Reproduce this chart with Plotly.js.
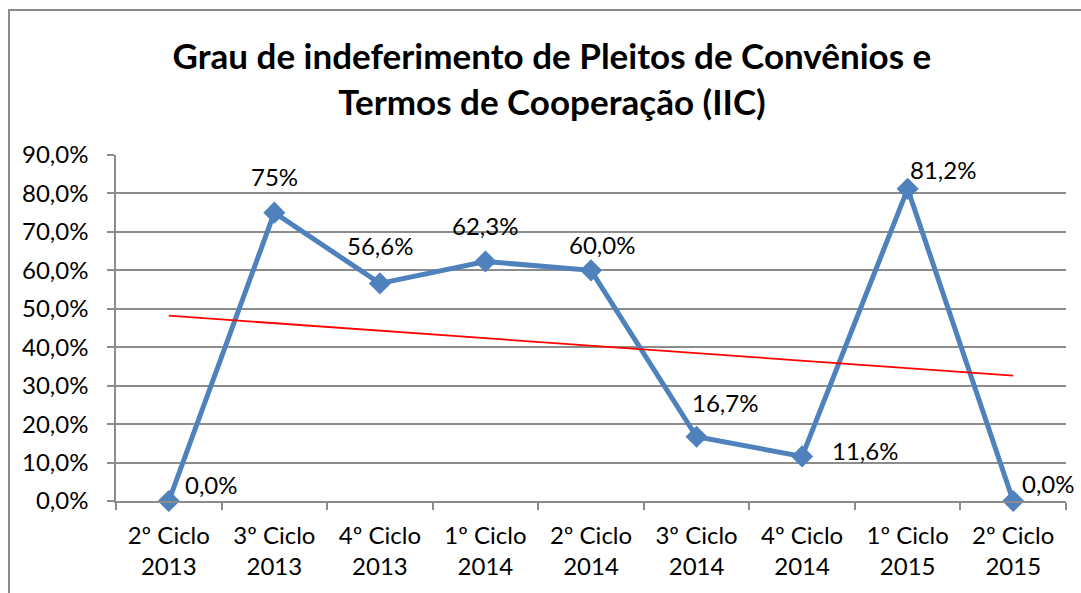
<!DOCTYPE html>
<html>
<head>
<meta charset="utf-8">
<script src="https://cdn.plot.ly/plotly-3.0.1.min.js"></script>
<style>
  body { margin: 0; background: white; }
  #frame { position: absolute; left: 8px; top: 9px; border-left: 2px solid #8c8c8c; border-top: 2px solid #8c8c8c; }
  #chart { width: 1071px; height: 582px; }
</style>
</head>
<body>
<div id="frame"><div id="chart"></div></div>
<script>
// categories (cycle / year)
var ciclos = ['2º Ciclo<br>2013', '3º Ciclo<br>2013', '4º Ciclo<br>2013', '1º Ciclo<br>2014',
              '2º Ciclo<br>2014', '3º Ciclo<br>2014', '4º Ciclo<br>2014', '1º Ciclo<br>2015', '2º Ciclo<br>2015'];
// indeferimento (%)
var grau = [0.0, 75, 56.6, 62.3, 60.0, 16.7, 11.6, 81.2, 0.0];
var rotulos = ['0,0%', '75%', '56,6%', '62,3%', '60,0%', '16,7%', '11,6%', '81,2%', '0,0%'];
// linear trendline, end values
var tendencia = [48.2, 32.6];

// label offsets in px
var dx = [43, 0, 0, 0, 11, 28, 63, 35, 35];
var dy = [17, 36, 38, 36, 26, 34, 6, 19, 18];

var fonte = 'Lato, "Open Sans", sans-serif';

var trace_grau = {
    x: ciclos,
    y: grau,
    mode: 'lines+markers',
    line: {color: '#4f81bd', width: 5},
    marker: {symbol: 'diamond', size: 17, color: '#4f81bd'},
    cliponaxis: false,
    hoverinfo: 'skip',
    showlegend: false
};
var trace_tend = {
    x: [ciclos[0], ciclos[ciclos.length - 1]],
    y: tendencia,
    mode: 'lines',
    line: {color: '#ff0000', width: 1.8},
    hoverinfo: 'skip',
    showlegend: false
};

var annots = [];
for (var i = 0; i < grau.length; i++) {
    annots.push({
        x: ciclos[i], y: grau[i], xref: 'x', yref: 'y',
        text: rotulos[i], showarrow: false,
        xshift: dx[i], yshift: dy[i],
        font: {family: fonte, size: 24, color: '#000'}
    });
}

var layout = {
    width: 1071, height: 582,
    margin: {l: 106, r: 15, t: 144, b: 92},
    paper_bgcolor: 'white',
    plot_bgcolor: 'white',
    separators: ',.',
    font: {family: fonte, size: 24, color: '#000'},
    title: {
        text: 'Grau de indeferimento de Pleitos de Convênios e<br>Termos de Cooperação (IIC)',
        font: {family: fonte, size: 35, color: '#000', weight: 'bold'},
        xref: 'container', x: 0.506, xanchor: 'center',
        yref: 'container', y: 0.9, yanchor: 'middle'
    },
    xaxis: {
        type: 'category',
        categoryorder: 'array', categoryarray: ciclos,
        tickson: 'boundaries',
        ticks: 'outside', ticklen: 7, tickcolor: '#8c8c8c', tickwidth: 1.5,
        ticklabelstandoff: 12,
        showline: true, linecolor: '#8c8c8c', linewidth: 1.5,
        showgrid: false,
        range: [-0.5, 8.5],
        tickfont: {family: fonte, size: 24, color: '#000'}
    },
    yaxis: {
        range: [0, 90],
        dtick: 10,
        tickformat: '.1f', ticksuffix: '%',
        ticks: 'outside', ticklen: 7, tickcolor: '#8c8c8c', tickwidth: 1.5,
        ticklabelstandoff: 14,
        showline: true, linecolor: '#8c8c8c', linewidth: 1.5,
        showgrid: true, gridcolor: '#8c8c8c', gridwidth: 1.5,
        zeroline: false,
        tickfont: {family: fonte, size: 24, color: '#000'}
    },
    annotations: annots
};

Plotly.newPlot('chart', [trace_grau, trace_tend], layout, {displayModeBar: false});
</script>
</body>
</html>
